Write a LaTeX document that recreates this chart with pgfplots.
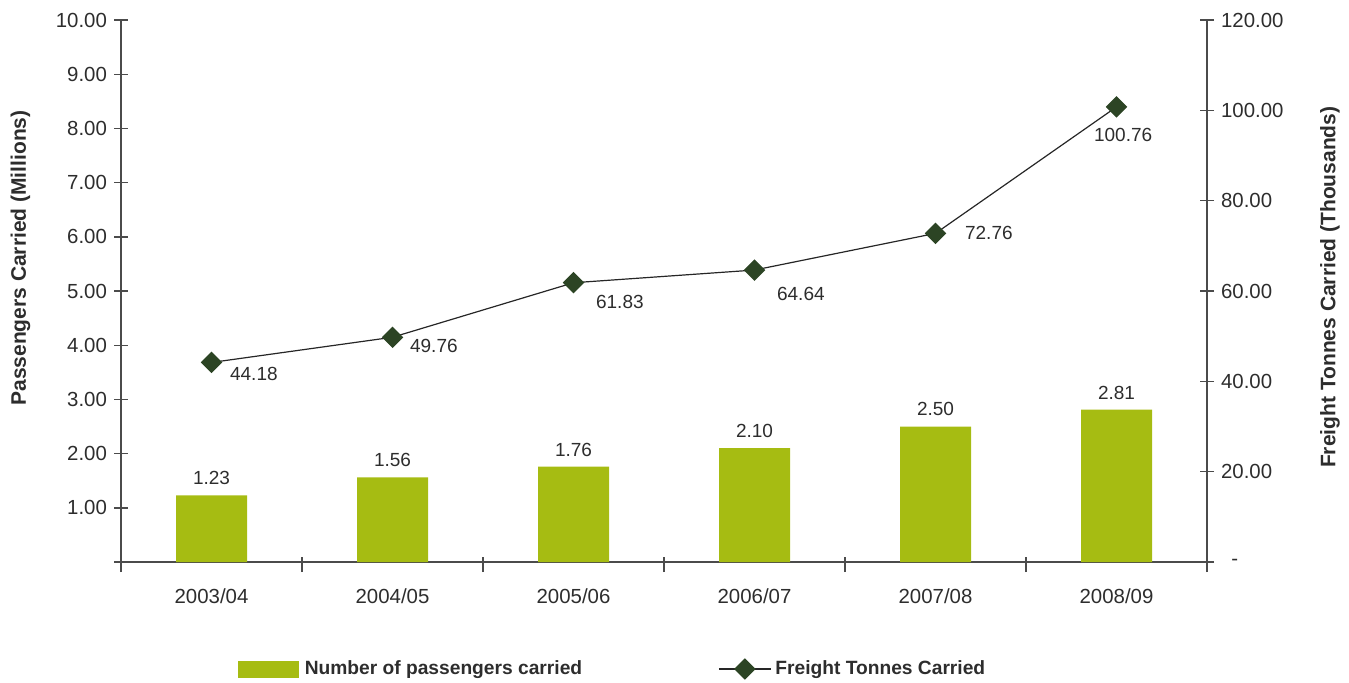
\documentclass[border=0pt]{standalone}
\usepackage{pgfplots}
\usepackage{pgfplotstable}
\pgfplotsset{compat=1.18}
\usepackage{fontspec}
\setmainfont{Liberation Sans}

\definecolor{barfill}{RGB}{166,188,18}
\definecolor{markfill}{RGB}{44,68,36}
\definecolor{axisgray}{RGB}{75,75,75}
\definecolor{labelgray}{RGB}{45,45,45}

% passengers carried, millions
\pgfplotstableread{
x pass
0 1.23
1 1.56
2 1.76
3 2.10
4 2.50
5 2.81
}\passengers

% freight tonnes carried, thousands; dx/dy place each value label
\pgfplotstableread{
x freight dx dy
0 44.18 9 -6
1 49.76 8.5 -4.5
2 61.83 11 -9.5
3 64.64 11 -12
4 72.76 14.5 0
5 100.76 -11.5 -14
}\freight

\begin{document}
\begin{tikzpicture}
\path[use as bounding box] (0,0) rectangle (674.5pt,341pt);
\pgfplotsset{
  base/.style={
    scale only axis, width=543pt, height=271pt,
    at={(60.5pt,60pt)}, anchor=south west,
    xmin=-0.5, xmax=5.5,
    axis line style={axisgray, line width=0.7pt},
    tick style={axisgray, line width=0.7pt},
    tick align=center, major tick length=7pt, minor tick length=7.5pt,
    /pgf/number format/assume math mode=true,
    tick label style={font=\fontsize{10.2}{12}\selectfont, text=labelgray},
    label style={font=\fontsize{10.5}{12}\selectfont\bfseries, text=labelgray},
    clip=false,
  }
}
\begin{axis}[base,
  axis lines*=left,
  ybar, bar width=35.5pt,
  ymin=0, ymax=10,
  ytick={0,...,10},
  yticklabels={,1.00,2.00,3.00,4.00,5.00,6.00,7.00,8.00,9.00,10.00},
  xtick={0,...,5},
  xticklabels={2003/04,2004/05,2005/06,2006/07,2007/08,2008/09},
  major x tick style={draw=none},
  minor xtick={-0.5,0.5,1.5,2.5,3.5,4.5,5.5},
  minor x tick style={yshift=2.5pt},
  xticklabel style={yshift=-3pt},
  ylabel={Passengers Carried (Millions)},
  ylabel style={at={(axis description cs:-0.0925,0.561)}, anchor=center, rotate=0},
  nodes near coords,
  nodes near coords style={font=\fontsize{9.5}{11}\selectfont, text=labelgray,
    anchor=south, inner sep=0pt, yshift=5pt,
    /pgf/number format/.cd, fixed, zerofill, precision=2},
]
\addplot[fill=barfill, draw=none] table[x=x, y=pass] {\passengers};
\end{axis}

\begin{axis}[base,
  axis x line=none,
  axis y line*=right,
  ymin=0, ymax=120,
  ytick={0,20,...,120},
  yticklabels={\enspace-,20.00,40.00,60.00,80.00,100.00,120.00},
  ylabel={Freight Tonnes Carried (Thousands)},
  ylabel style={at={(axis description cs:1.1133,0.507)}, anchor=center, rotate=0},
  legend columns=2,
  legend style={draw=none, fill=none, inner sep=0pt, outer sep=0pt,
    at={(axis description cs:0.1077,-0.1974)}, anchor=west,
    font=\fontsize{9.6}{11}\selectfont\bfseries, text=labelgray,
    /tikz/every even column/.append style={column sep=66pt}},
]
\addlegendimage{legend image code/.code={\fill[barfill] (0pt,-4pt) rectangle (30pt,4pt);}}
\addlegendentry{\hspace{1pt}Number of passengers carried}
\addplot[black!85, line width=0.6pt,
  mark=square*, mark size=3.5pt,
  mark options={rotate=45, fill=markfill, draw=markfill},
  legend image code/.code={\draw[mark repeat=2, mark phase=2] plot coordinates {(0pt,0pt) (13pt,0pt) (26pt,0pt)};},
  visualization depends on={\thisrow{dx} \as \dx},
  visualization depends on={\thisrow{dy} \as \dy},
  nodes near coords,
  nodes near coords style={font=\fontsize{9.5}{11}\selectfont, text=labelgray,
    anchor=west, inner sep=0pt, xshift=\dx pt, yshift=\dy pt,
    /pgf/number format/.cd, fixed, zerofill, precision=2},
] table[x=x, y=freight] {\freight};
\addlegendentry{Freight Tonnes Carried}
\end{axis}
\end{tikzpicture}
\end{document}
